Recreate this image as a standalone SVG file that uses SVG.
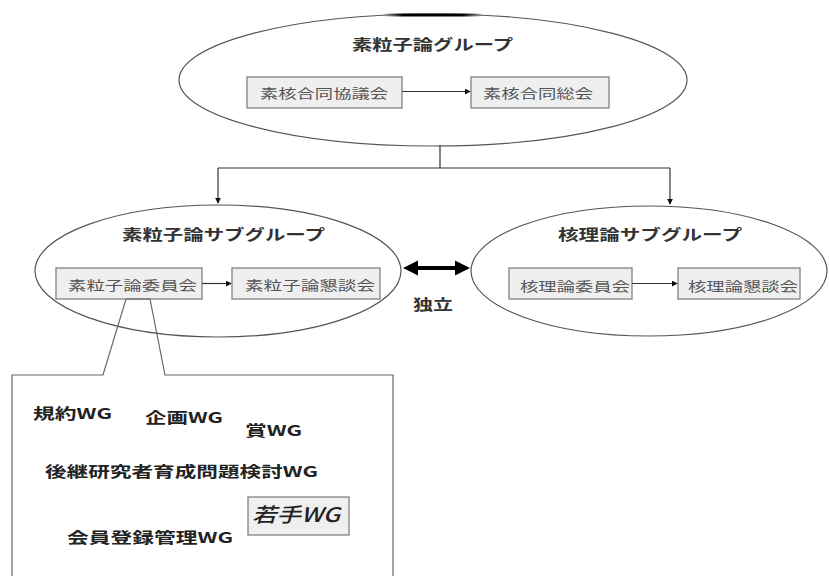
<svg xmlns="http://www.w3.org/2000/svg" width="829" height="576" viewBox="0 0 829 576">
<defs>
<style>
.ell{fill:#fff;stroke:#555;stroke-width:1.2}
.box{fill:#efefef;stroke:#777;stroke-width:1.2}
.t{font-family:"Noto Sans CJK JP","Liberation Sans",sans-serif;fill:#222;dominant-baseline:central;text-anchor:start}
.title{font-size:15px;font-weight:bold;fill:#333}
.bt{font-size:13px;fill:#555}
.wg{font-size:15px;font-weight:bold;fill:#222}
.ln{fill:none;stroke:#333;stroke-width:1.2}
</style>
<marker id="ah" viewBox="0 0 8 8" refX="7" refY="4" markerWidth="6" markerHeight="6" orient="auto" markerUnits="userSpaceOnUse">
<path d="M0,0 L8,4 L0,8 z" fill="#111"/>
</marker>
<linearGradient id="bar" x1="0" x2="1" y1="0" y2="0">
<stop offset="0" stop-color="#000" stop-opacity="0"/>
<stop offset="0.2" stop-color="#000" stop-opacity="1"/>
<stop offset="0.8" stop-color="#000" stop-opacity="1"/>
<stop offset="1" stop-color="#000" stop-opacity="0"/>
</linearGradient>
</defs>
<rect width="829" height="576" fill="#fff"/>

<g id="top-group">
<ellipse class="ell" cx="433" cy="80" rx="254" ry="66"/>
<rect x="383" y="13.5" width="100" height="3" fill="url(#bar)"/>
<text class="t title" x="352" y="43" textLength="161" lengthAdjust="spacingAndGlyphs">素粒子論グループ</text>
</g>
<g id="node-kyogikai">
<rect class="box" x="247" y="77" width="155" height="31"/>
<text class="t bt" x="260" y="92" textLength="128" lengthAdjust="spacingAndGlyphs">素核合同協議会</text>
</g>
<g id="node-sokai">
<rect class="box" x="471" y="77" width="138" height="31"/>
<text class="t bt" x="483" y="92" textLength="110" lengthAdjust="spacingAndGlyphs">素核合同総会</text>
</g>

<g id="left-group">
<ellipse class="ell" cx="218" cy="271" rx="183" ry="66"/>
<text class="t title" x="122" y="233" textLength="203" lengthAdjust="spacingAndGlyphs">素粒子論サブグループ</text>
</g>
<g id="node-sr-iinkai">
<rect class="box" x="56" y="268" width="146" height="31"/>
<text class="t bt" x="68" y="284" textLength="129" lengthAdjust="spacingAndGlyphs">素粒子論委員会</text>
</g>
<g id="node-sr-kondankai">
<rect class="box" x="232" y="268" width="148" height="31"/>
<text class="t bt" x="245" y="284" textLength="130" lengthAdjust="spacingAndGlyphs">素粒子論懇談会</text>
</g>

<g id="right-group">
<ellipse class="ell" cx="649" cy="271" rx="178" ry="65"/>
<text class="t title" x="558" y="233" textLength="184" lengthAdjust="spacingAndGlyphs">核理論サブグループ</text>
</g>
<g id="node-kr-iinkai">
<rect class="box" x="509" y="268" width="123" height="31"/>
<text class="t bt" x="520" y="285" textLength="110" lengthAdjust="spacingAndGlyphs">核理論委員会</text>
</g>
<g id="node-kr-kondankai">
<rect class="box" x="678" y="268" width="122" height="31"/>
<text class="t bt" x="688" y="285" textLength="110" lengthAdjust="spacingAndGlyphs">核理論懇談会</text>
</g>

<g id="independent">
<path d="M403,268 L418,260.5 L418,266 L455,266 L455,260.5 L470,268 L455,275.5 L455,270 L418,270 L418,275.5 z" fill="#000"/>
<text class="t title" x="413" y="303" textLength="40" lengthAdjust="spacingAndGlyphs">独立</text>
</g>

<g id="callout">
<path d="M12,580 L12,375 L103,375 L126,299 L150,299 L165,375 L393,375 L393,580" fill="none" stroke="#666" stroke-width="1.2"/>
<text class="t wg" x="33" y="412" textLength="79" lengthAdjust="spacingAndGlyphs">規約WG</text>
<text class="t wg" x="145" y="416" textLength="78" lengthAdjust="spacingAndGlyphs">企画WG</text>
<text class="t wg" x="245" y="429" textLength="57" lengthAdjust="spacingAndGlyphs">賞WG</text>
<text class="t wg" x="45" y="470" textLength="273" lengthAdjust="spacingAndGlyphs">後継研究者育成問題検討WG</text>
<rect class="box" x="248" y="497" width="101" height="38"/>
<text class="t" x="252" y="513" font-size="20" font-style="italic" font-weight="500" fill="#333" textLength="88" lengthAdjust="spacingAndGlyphs">若手WG</text>
<text class="t wg" x="67" y="536" textLength="166" lengthAdjust="spacingAndGlyphs">会員登録管理WG</text>
</g>

<g id="connectors">
<path class="ln" d="M402,91.5 L470,91.5" marker-end="url(#ah)"/>
<path class="ln" d="M440,145 L440,168 M218,168 L670,168"/>
<path class="ln" d="M218,168 L218,203" marker-end="url(#ah)"/>
<path class="ln" d="M670,168 L670,204" marker-end="url(#ah)"/>
<path class="ln" d="M202,283.5 L231,283.5" marker-end="url(#ah)"/>
<path class="ln" d="M632,283.5 L677,283.5" marker-end="url(#ah)"/>
</g>
</svg>
